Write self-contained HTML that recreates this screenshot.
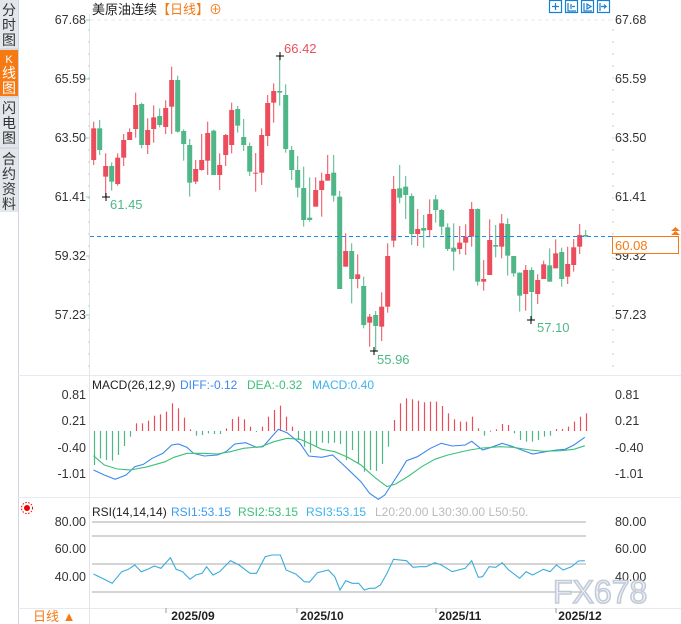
<!DOCTYPE html>
<html><head><meta charset="utf-8">
<style>
body{margin:0;width:681px;height:624px;overflow:hidden;background:#fff;font-family:"Liberation Sans","Noto Sans CJK SC",sans-serif;}
svg{position:absolute;left:0;top:0}
text{font-family:"Liberation Sans","Noto Sans CJK SC",sans-serif}
</style></head><body>
<svg id="s" width="681" height="624" xmlns="http://www.w3.org/2000/svg">
<rect x="0" y="0" width="18" height="212" fill="#e3e6ea"/>
<rect x="0" y="50" width="18" height="46" fill="#f57a14"/>
<line x1="0" y1="49" x2="18" y2="49" stroke="#c8ccd2"/>
<line x1="0" y1="97" x2="18" y2="97" stroke="#c8ccd2"/>
<line x1="0" y1="148" x2="18" y2="148" stroke="#c8ccd2"/>
<line x1="18.5" y1="0" x2="18.5" y2="624" stroke="#d0d6de"/>
<g font-size="14" fill="#333" text-anchor="middle">
<text x="9" y="15">分</text><text x="9" y="30">时</text><text x="9" y="45">图</text>
<text x="9" y="63" fill="#fff" font-size="11">K</text><text x="9" y="78" fill="#fff">线</text><text x="9" y="93" fill="#fff">图</text>
<text x="9" y="113">闪</text><text x="9" y="128">电</text><text x="9" y="143">图</text>
<text x="9" y="164">合</text><text x="9" y="179">约</text><text x="9" y="194">资</text><text x="9" y="209">料</text>
</g>
<line x1="89.5" y1="14" x2="89.5" y2="608" stroke="#e2e6ea"/>
<line x1="18" y1="375.5" x2="681" y2="375.5" stroke="#e6e9ee"/>
<line x1="18" y1="497.5" x2="681" y2="497.5" stroke="#e6e9ee"/>
<line x1="18" y1="608.5" x2="681" y2="608.5" stroke="#e6e9ee"/>
<line x1="90" y1="20" x2="612" y2="20" stroke="#e8e8e8" stroke-dasharray="4,3"/>
<text x="92" y="14" font-size="13" fill="#222">美原油连续<tspan fill="#f57a14">【日线】⊕</tspan></text>
<g fill="none" stroke="#1a7fd0" stroke-width="1.2">
<rect x="549.5" y="0.5" width="12" height="12"/><rect x="565.5" y="0.5" width="12" height="12"/><rect x="581.5" y="0.5" width="12" height="12"/><rect x="597.5" y="0.5" width="12" height="12"/>
<path d="M555.5 3v7M552 6.5h7M568 3v8h8M571 4v5M572 6.5h3M584 3v8h8M587 4l4 2.5-4 2.5zM600 3v8M601 6.5h5l-2-2M604 8.5l2-2"/>
</g>
<g id="g"></g>
</svg>
<script>
const g=document.getElementById('g');let h='';
const R='#eb4d5c',G='#4fb787';
function T(x,y,t,c,fs,a){h+=`<text x="${x}" y="${y}" font-size="${fs||12}" fill="${c||'#333'}" text-anchor="${a||'start'}">${t}</text>`;}
[[67.68,20],[65.59,79],[63.50,138],[61.41,197],[59.32,256],[57.23,315]].forEach(v=>{T(86,v[1]+4,v[0].toFixed(2),'#333',12.5,'end');T(615,v[1]+4,v[0].toFixed(2),'#333',12.5);h+=`<line x1="86" y1="${v[1]}" x2="90" y2="${v[1]}" stroke="#9cc"/>`;});
for(let y=30;y<370;y+=12){h+=`<line x1="88" y1="${y}" x2="90" y2="${y}" stroke="#ccc"/><line x1="612" y1="${y}" x2="614" y2="${y}" stroke="#ccc"/>`;}
const A=[['r',245,265,360,375],['g',240,265,330,345],['r',340,378,410,470],['g',367,378,425,452],['r',340,353,432,437],['r',282,300,353,378],['r',265,276,300,300],['r',158,195,267,293],['g',188,192,315,325],['r',235,270,315,342],['r',196,232,267,308],['g',205,228,255,262],['r',181,204,261,282],['r',80,120,200,282],['g',107,120,275,278],['g',268,273,312,362],['g',297,315,428,470],['r',360,387,425,432],['r',282,360,390,392],['r',245,279,362,405],['g',269,272,405,405],['r',340,375,405,450],['r',282,285,345,378],['r',188,210,315,340],['g',198,207,257,278],['g',237,291,315,333],['g',308,318,395,408],['r',339,398,401,455],['r',265,285,398,435],['r',165,189,288,318],['r',130,153,188,248],['g',47,153,158,197],['g',133,165,327,338],['g',318,330,390,420],['g',348,390,443,472],['g',380,444,540,560],['g',412,533,540,545],['r',412,450,500,500],['r',398,422,450,530],['r',345,402,422,422],['g',345,398,467,485]];
const B=[['g',153,170,447,447],['r',280,333,380,380],['g',310,333,417,490],['r',343,403,417,445],['g',410,438,555,565],['r',522,530,548,620],['g',513,525,558,635],['r',457,500,560,603],['r',310,348,500,518],['r',108,147,302,322],['g',75,145,173,190],['g',108,140,165,237],['g',160,168,282,315],['r',207,267,282,318],['g',225,264,272,323],['r',178,222,270,292],['g',165,178,210,248],['g',207,210,260,285],['g',250,262,327,333],['g',250,323,335,392],['r',258,308,327,343],['r',253,290,308,345],['r',186,207,290,320],['g',205,207,425,437],['r',360,417,425,452],['r',238,300,405,405],['g',255,315,320,352],['r',222,250,320,355],['g',235,252,347,407],['g',348,348,400,410],['g',397,398,467,515],['r',375,390,462,512],['g',382,390,456,540],['r',403,420,462,492],['r',362,373,417,417],['g',325,376,425,425],['r',298,340,385,385],['g',323,336,417,440],['r',320,372,410,432],['r',297,322,375,395],['r',252,285,320,342],['g',270,285,290,290]];
const C=A.map(c=>[c[0],...c.slice(1).map(v=>40+v/3)]).concat(B.map(c=>[c[0],...c.slice(1).map(v=>140+v/3)]));
C.forEach((c,i)=>{const x=93.7+6*i,col=c[0]=='r'?R:G;h+=`<line x1="${x}" y1="${c[1]}" x2="${x}" y2="${c[4]}" stroke="${col}"/><rect x="${x-2.5}" y="${c[2]}" width="5" height="${Math.max(1,c[3]-c[2])}" fill="${col}"/>`;});
h+=`<line x1="90" y1="236.5" x2="612" y2="236.5" stroke="#1a86f0" stroke-dasharray="4,3"/>`;
h+=`<rect x="612.5" y="236.5" width="66" height="17" fill="#fff" stroke="#f57a14"/>`;T(615,250,'60.08','#f57a14',13);
h+=`<path d="M671 235h9l-4.5-4zM671 231h9l-4.5-4z" fill="#f57a14"/>`;
[[106,197],[280,56],[374,351],[531,320]].forEach(p=>{h+=`<path d="M${p[0]-4} ${p[1]}h8M${p[0]} ${p[1]-4}v8" stroke="#000"/>`;});
T(284,53,'66.42',R,13);T(110,209,'61.45',G,13);T(377,364,'55.96',G,13);T(537,332,'57.10',G,13);
T(92,389,'MACD(26,12,9)','#222',12);T(180,389,'DIFF:-0.12','#3a88f0',12);T(247,389,'DEA:-0.32','#3cc07a',12);T(312,389,'MACD:0.40','#3bb3f0',12);
[['0.81',395],['0.21',421],['-0.40',448],['-1.01',474]].forEach(v=>{T(86,v[1]+4,v[0],'#333',12.5,'end');T(615,v[1]+4,v[0],'#333',12.5);});
const hz=[285,265,270,272,255,228,200,160,160,152,137,133,125,100,115,143,178,197,195,190,192,192,175,147,140,148,170,183,170,140,120,107,140,170,210,230,248,230,218,220,218,222,270,240,280,305,300,303,282,230,150,100,85,88,92,97,95,95,108,130,148,155,155,140,175,197,182,178,162,165,190,210,215,215,210,200,197,177,177,170,155,140,130];
hz.forEach((z,i)=>{const x=Math.round(93.5+6*i)+0.5,y=370+z/3,col=z<183?R:G;h+=`<rect x="${x-0.6}" y="${Math.min(431,y)}" width="1.2" height="${Math.max(1,Math.abs(y-431))}" fill="${col}"/>`;});
function P(pts,col){h+=`<polyline fill="none" stroke="${col}" stroke-width="1.1" points="${pts.map(p=>(p[0]/2.3).toFixed(1)+','+(370+p[1]/3).toFixed(1)).join(' ')}"/>`;}
P([[215,300],[240,315],[265,328],[290,315],[310,290],[330,283],[350,265],[375,250],[395,225],[410,222],[430,232],[445,250],[470,258],[500,255],[520,245],[540,222],[565,218],[590,232],[605,230],[640,178],[660,188],[690,220],[710,258],[740,262],[765,255],[790,285],[810,310],[830,335],[850,370],[870,388],[885,375],[900,345],[920,305],[935,272],[960,260],[990,235],[1015,220],[1040,228],[1070,225],[1085,214],[1110,240],[1130,232],[1155,220],[1180,230],[1200,240],[1225,252],[1260,244],[1280,240],[1300,238],[1320,225],[1345,202]],'#3a88f0');
P([[215,257],[240,285],[270,297],[300,300],[340,290],[380,275],[400,262],[430,250],[470,250],[500,252],[530,245],[560,235],[600,230],[630,215],[660,205],[690,208],[720,225],[740,238],[770,245],[800,262],[830,285],[860,320],[890,350],[910,342],[940,318],[970,290],[1000,268],[1030,255],[1080,240],[1110,234],[1150,230],[1180,232],[1220,240],[1250,244],[1290,242],[1320,238],[1345,227]],'#3cc07a');
h+=`<circle cx="27" cy="508" r="3" fill="#e00"/><circle cx="27" cy="508" r="5.5" fill="none" stroke="#e00" stroke-dasharray="1.5,1.5"/>`;
T(92,516,'RSI(14,14,14)','#222',12);T(171,516,'RSI1:53.15','#3a9cf0',12);T(238,516,'RSI2:53.15','#3cc07a',12);T(306,516,'RSI3:53.15','#3bb3f0',12);T(375,516,'L20:20.00  L30:30.00  L50:50.','#bbb',12);
[522,536,564,592].forEach(y=>{h+=`<line x1="92" y1="${y}" x2="586" y2="${y}" stroke="#aaa"/>`;});
[['80.00',522],['60.00',549],['40.00',577]].forEach(v=>{T(86,v[1]+4,v[0],'#333',12.5,'end');T(615,v[1]+4,v[0],'#333',12.5);});
P([[215,612],[235,625],[258,640],[280,605],[295,598],[310,585],[325,605],[340,598],[355,588],[370,595],[392,563],[405,598],[420,605],[437,628],[450,615],[465,610],[475,590],[490,615],[505,605],[530,572],[550,585],[575,610],[590,610],[610,560],[625,555],[645,555],[658,600],[680,612],[700,635],[712,636],[730,608],[755,600],[770,620],[782,660],[795,632],[810,640],[825,640],[838,660],[850,655],[862,655],[875,645],[890,610],[905,568],[935,572],[950,592],[965,590],[980,590],[1000,578],[1015,585],[1040,605],[1070,595],[1085,572],[1100,622],[1110,620],[1125,590],[1140,592],[1155,578],[1170,600],[1195,625],[1210,605],[1225,615],[1250,598],[1265,605],[1280,585],[1295,600],[1315,590],[1330,573],[1345,572]],'#3aacdc');
[[166,193,'2025/09'],[297,322,'2025/10'],[436,460,'2025/11'],[556,580,'2025/12']].forEach(d=>{h+=`<line x1="${d[0]}" y1="608" x2="${d[0]}" y2="613" stroke="#999"/>`;h+=`<text x="${d[1]}" y="620" font-size="12" font-weight="bold" fill="#222" text-anchor="middle">${d[2]}</text>`;});
h+=`<line x1="89.5" y1="608" x2="89.5" y2="624" stroke="#e2e6ea"/>`;
T(33,621,'日线 ▲','#f57a14',13);
h+=`<text x="553" y="603" font-size="32" fill="#f4f6f9" stroke="#bcc6d4" stroke-width="1.6" opacity="0.9">FX678</text>`;
g.innerHTML=h;
</script>
</body></html>
